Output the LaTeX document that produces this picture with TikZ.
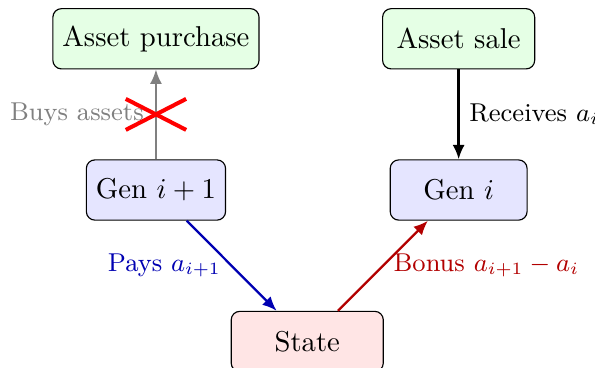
\documentclass[tikz,border=0pt]{standalone}
\usepackage{amsmath}
\usepackage{amssymb}
\usetikzlibrary{
  arrows.meta,
  positioning
}

\begin{document}
\begin{tikzpicture}[
    basebox/.style = {shape=rectangle, rounded corners=3pt,
      draw, align=center, minimum height=21pt},
    assetbox/.style = {basebox, fill=green!10},
    genbox/.style = {basebox, fill=blue!10},
    statebox/.style = {basebox, fill=red!10, minimum width=53pt},
    flow/.style = {-{Latex[length=5pt,width=4.2pt]}, thick},
    lab/.style = {font=\small}]
  \useasboundingbox (-1.91,-2.168) rectangle (5.377,2.327);
  \node[genbox] (gennext) at (0,0) {Gen $i+1$};
  \node[genbox, minimum width=47.7pt] (gencur) at (3.707,0) {Gen $i$};
  \node[assetbox, above=1.1cm of gennext] (purchase) {Asset purchase};
  \node[assetbox, above=1.1cm of gencur, minimum width=53pt] (sale) {Asset sale};
  \node[statebox] (state) at (1.853,-1.855) {State};
  % blocked purchase
  \draw[flow, gray] (gennext) -- node[lab, left=0.5pt] {Buys assets} coordinate (cut) (purchase);
  \draw[red, line width=1.4pt] ([shift={(-0.37,-0.19)}]cut) -- ([shift={(0.37,0.19)}]cut);
  \draw[red, line width=1.4pt] ([shift={(-0.37,0.19)}]cut) -- ([shift={(0.37,-0.19)}]cut);
  \draw[flow] (sale) -- node[lab, right] {Receives $a_i$} (gencur);
  \draw[flow, blue!70!black] (gennext) -- node[lab, left] {Pays $a_{i+1}$} (state);
  \draw[flow, red!70!black] (state) -- node[lab, right] {Bonus $a_{i+1}-a_i$} (gencur);
\end{tikzpicture}
\end{document}
